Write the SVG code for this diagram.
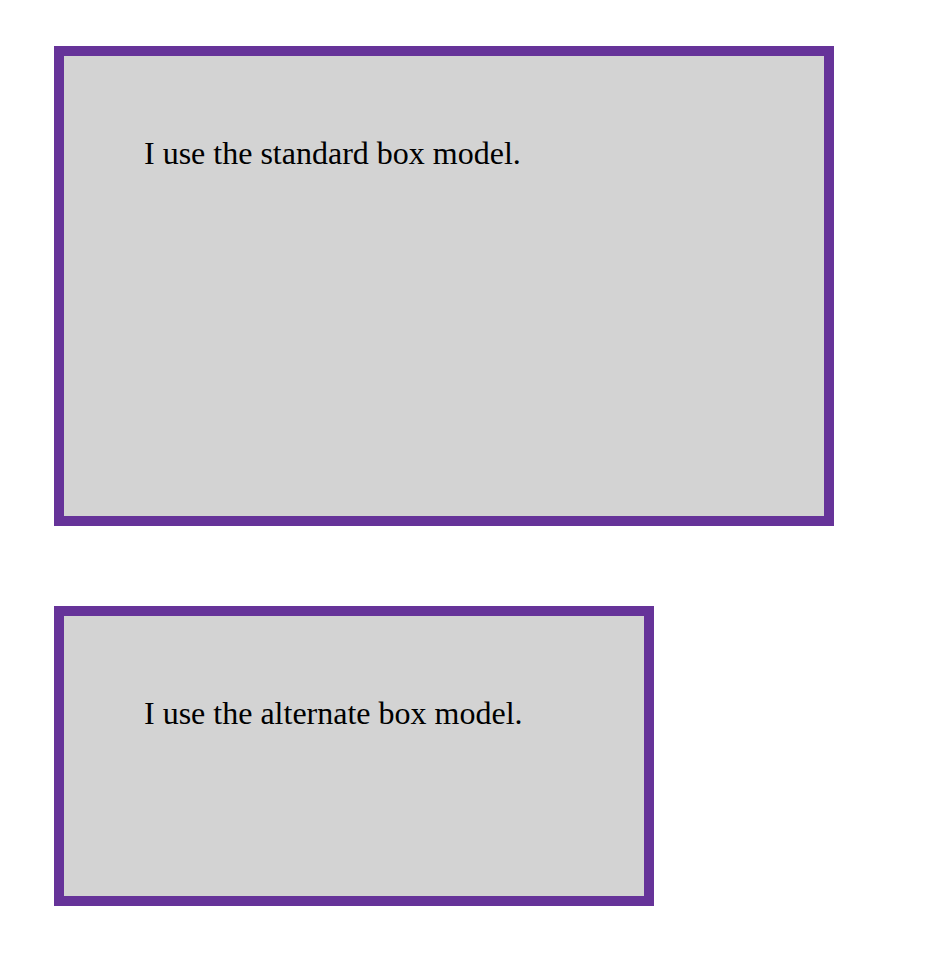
<svg xmlns="http://www.w3.org/2000/svg" width="926" height="968" viewBox="0 0 926 968">
  <style>
    .box { fill: #d3d3d3; stroke: #663399; stroke-width: 10; }
    .label { font-family: "Liberation Serif", "Times New Roman", serif; font-size: 32px; fill: #000; }
  </style>
  <rect width="926" height="968" fill="#fff"/>
  <g id="standard-box">
    <rect class="box" x="59" y="51" width="770" height="470"/>
    <text class="label" x="144" y="164">I use the standard box model.</text>
  </g>
  <g id="alternate-box">
    <rect class="box" x="59" y="611" width="590" height="290"/>
    <text class="label" x="144" y="724">I use the alternate box model.</text>
  </g>
  <g id="connectors"/>
</svg>
